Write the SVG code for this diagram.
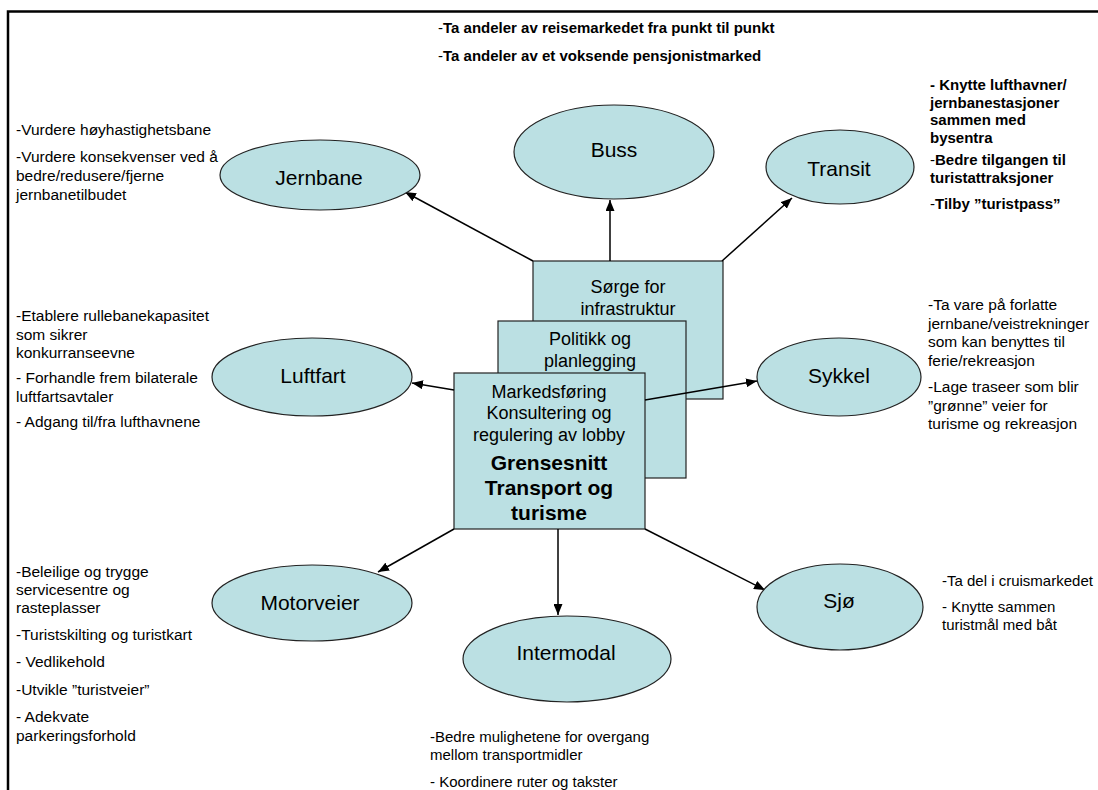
<svg xmlns="http://www.w3.org/2000/svg" width="1098" height="790" viewBox="0 0 1098 790">
<style>
text{font-family:"Liberation Sans",Arial,sans-serif;fill:#000}
.node{fill:#BBE0E3;stroke:#222;stroke-width:1.2}
.lbl{font-size:21px;text-anchor:middle}
.box{font-size:18px;text-anchor:middle}
.boxb{font-size:21px;font-weight:bold;text-anchor:middle}
.ann{font-size:15.5px}
.ann2{font-size:15px}
.bold{font-size:15px;font-weight:bold}
.n{font-weight:normal}
.conn line{stroke:#000;stroke-width:1.5;marker-end:url(#arr)}
</style>
<defs>
<marker id="arr" markerUnits="userSpaceOnUse" markerWidth="12" markerHeight="9" refX="11" refY="4.5" orient="auto">
<path d="M0,0 L11,4.5 L0,9 z" fill="#000"/>
</marker>
</defs>
<rect width="1098" height="790" fill="#fff"/>
<path d="M8,790 V11.5 H1098" fill="none" stroke="#000" stroke-width="2.5"/>

<g id="top-notes">
<text class="bold" x="438" y="33"><tspan class="n">-</tspan>Ta andeler av reisemarkedet fra punkt til punkt</text>
<text class="bold" x="438" y="61"><tspan class="n">-</tspan>Ta andeler av et voksende pensjonistmarked</text>
</g>

<g id="box-infrastruktur">
<rect class="node" x="533" y="261" width="190" height="138"/>
<text class="box" x="628" y="293">Sørge for</text>
<text class="box" x="628" y="315">infrastruktur</text>
</g>
<g id="box-politikk">
<rect class="node" x="498" y="321" width="188" height="157"/>
<text class="box" x="590" y="345">Politikk og</text>
<text class="box" x="590" y="367">planlegging</text>
</g>
<g id="box-grensesnitt">
<rect class="node" x="454" y="373" width="191" height="156"/>
<text class="box" x="549" y="398">Markedsføring</text>
<text class="box" x="549" y="419">Konsultering og</text>
<text class="box" x="549" y="441">regulering av lobby</text>
<text class="boxb" x="549" y="470">Grensesnitt</text>
<text class="boxb" x="549" y="495">Transport og</text>
<text class="boxb" x="549" y="520">turisme</text>
</g>

<g id="connectors" class="conn">
<line x1="533" y1="261" x2="405" y2="192"/>
<line x1="610" y1="261" x2="610" y2="200"/>
<line x1="722" y1="261" x2="792" y2="198"/>
<line x1="454" y1="390" x2="412" y2="383"/>
<line x1="645" y1="400" x2="757" y2="381"/>
<line x1="454" y1="529" x2="378" y2="572"/>
<line x1="558" y1="529" x2="558" y2="615"/>
<line x1="645" y1="529" x2="765" y2="590"/>
</g>

<g id="node-jernbane">
<ellipse class="node" cx="320" cy="175" rx="100" ry="35"/>
<text class="lbl" x="319" y="185">Jernbane</text>
</g>
<g id="node-buss">
<ellipse class="node" cx="614" cy="152" rx="100" ry="47"/>
<text class="lbl" x="614" y="157">Buss</text>
</g>
<g id="node-transit">
<ellipse class="node" cx="840" cy="167" rx="74" ry="37"/>
<text class="lbl" x="839" y="176">Transit</text>
</g>
<g id="node-luftfart">
<ellipse class="node" cx="312" cy="377" rx="100" ry="39"/>
<text class="lbl" x="313" y="383">Luftfart</text>
</g>
<g id="node-sykkel">
<ellipse class="node" cx="839" cy="377" rx="82" ry="39"/>
<text class="lbl" x="839" y="383">Sykkel</text>
</g>
<g id="node-motorveier">
<ellipse class="node" cx="312" cy="603" rx="100" ry="38"/>
<text class="lbl" x="310" y="610">Motorveier</text>
</g>
<g id="node-intermodal">
<ellipse class="node" cx="567" cy="659" rx="104" ry="43"/>
<text class="lbl" x="566" y="660">Intermodal</text>
</g>
<g id="node-sjo">
<ellipse class="node" cx="840" cy="607" rx="83" ry="43"/>
<text class="lbl" x="839" y="608">Sjø</text>
</g>

<g id="notes-jernbane" class="ann">
<text x="16" y="135">-Vurdere høyhastighetsbane</text>
<text x="16" y="162">-Vurdere konsekvenser ved å</text>
<text x="16" y="181">bedre/redusere/fjerne</text>
<text x="16" y="200">jernbanetilbudet</text>
</g>
<g id="notes-transit" class="bold">
<text x="930" y="90">- Knytte lufthavner/</text>
<text x="930" y="107.5">jernbanestasjoner</text>
<text x="930" y="125">sammen med</text>
<text x="930" y="142.5">bysentra</text>
<text x="930" y="165"><tspan class="n">-</tspan>Bedre tilgangen til</text>
<text x="930" y="183">turistattraksjoner</text>
<text x="930" y="209"><tspan class="n">-</tspan>Tilby ”turistpass”</text>
</g>
<g id="notes-luftfart" class="ann">
<text x="16" y="321">-Etablere rullebanekapasitet</text>
<text x="16" y="339.5">som sikrer</text>
<text x="16" y="358">konkurranseevne</text>
<text x="16" y="383">- Forhandle frem bilaterale</text>
<text x="16" y="401.5">luftfartsavtaler</text>
<text x="16" y="427">- Adgang til/fra lufthavnene</text>
</g>
<g id="notes-sykkel" class="ann">
<text x="928" y="310">-Ta vare på forlatte</text>
<text x="928" y="328.5">jernbane/veistrekninger</text>
<text x="928" y="347">som kan benyttes til</text>
<text x="928" y="365.5">ferie/rekreasjon</text>
<text x="928" y="392">-Lage traseer som blir</text>
<text x="928" y="410.5">”grønne” veier for</text>
<text x="928" y="429">turisme og rekreasjon</text>
</g>
<g id="notes-motorveier" class="ann">
<text x="16" y="577">-Beleilige og trygge</text>
<text x="16" y="595">servicesentre og</text>
<text x="16" y="613">rasteplasser</text>
<text x="16" y="640">-Turistskilting og turistkart</text>
<text x="16" y="667">- Vedlikehold</text>
<text x="16" y="695">-Utvikle ”turistveier”</text>
<text x="16" y="722">- Adekvate</text>
<text x="16" y="741">parkeringsforhold</text>
</g>
<g id="notes-intermodal" class="ann2">
<text x="430" y="742">-Bedre mulighetene for overgang</text>
<text x="430" y="760">mellom transportmidler</text>
<text x="430" y="787">- Koordinere ruter og takster</text>
</g>
<g id="notes-sjo" class="ann2">
<text x="942" y="586">-Ta del i cruismarkedet</text>
<text x="942" y="612">- Knytte sammen</text>
<text x="942" y="630">turistmål med båt</text>
</g>
</svg>
